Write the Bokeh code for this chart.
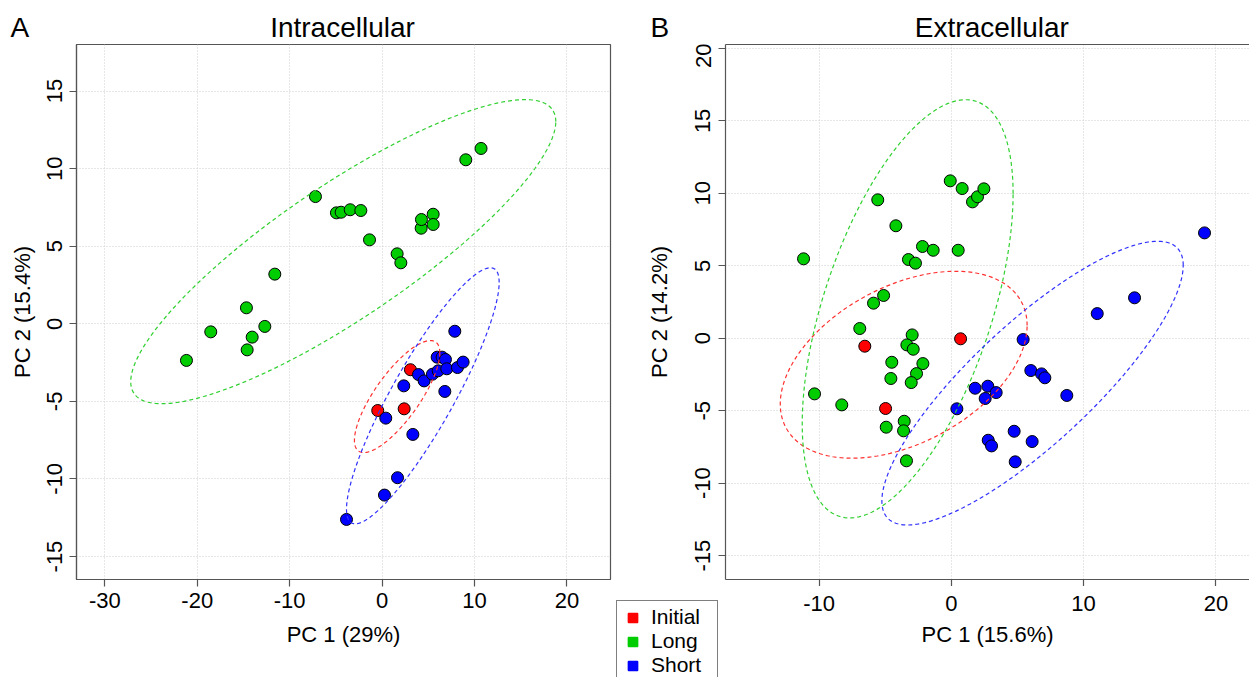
import numpy as np
from bokeh.plotting import figure
from bokeh.layouts import row, column
from bokeh.models import Range1d, FixedTicker, Legend, LegendItem, LinearAxis
from bokeh.core.properties import value
from bokeh.embed import file_html
from bokeh.resources import INLINE

FONT = "Liberation Sans"
groups = ["Initial", "Long", "Short"]
colors = {"Initial": "#FF0000", "Long": "#00CD00", "Short": "#0000FF"}
ell_colors = {"Initial": "#FF3030", "Long": "#30D030", "Short": "#3030FF"}
FRAME = "#555555"

# ---------------- Intracellular (panel A) ----------------
intra_titles = ("Intracellular", "PC 1 (29%)", "PC 2 (15.4%)")
intra_x_ticks = [-30, -20, -10, 0, 10, 20]
intra_y_ticks = [-15, -10, -5, 0, 5, 10, 15]

intra_initial_x = [-0.47, 2.39, 3.07]
intra_initial_y = [-5.59, -5.48, -2.96]
intra_long_x = [-21.17, -18.54, -14.68, -14.06, -14.60, -12.69, -11.61, -7.21, -4.94, -4.43, -3.45,
                -2.30, -1.36, 1.63, 2.03, 4.23, 4.26, 5.53, 5.53, 9.06, 10.71]
intra_long_y = [-2.36, -0.52, 1.03, -0.86, -1.68, -0.17, 3.20, 8.20, 7.15, 7.19, 7.35,
                7.30, 5.41, 4.51, 3.93, 6.16, 6.72, 7.06, 6.40, 10.57, 11.30]
intra_short_x = [7.87, 5.96, 6.50, 6.86, 3.94, 4.55, 5.45, 6.07, 7.00, 8.16, 8.77, 6.79,
                 2.35, 0.40, 3.33, 1.67, 0.26, -3.85]
intra_short_y = [-0.48, -2.15, -2.15, -2.30, -3.27, -3.68, -3.25, -3.03, -2.90, -2.82, -2.47, -4.36,
                 -4.00, -6.08, -7.13, -9.92, -11.04, -12.61]
# ellipse: centre x, centre y, half-width x, half-height y, correlation
intra_ellipses = {"Initial": (1.63, -4.69, 4.62, 3.61, 0.78),
                  "Long": (-4.20, 4.65, 23.0, 9.80, 0.855),
                  "Short": (4.41, -4.64, 8.26, 8.25, 0.885)}

# ---------------- Extracellular (panel B) ----------------
extra_titles = ("Extracellular", "PC 1 (15.6%)", "PC 2 (14.2%)")
extra_x_ticks = [-10, 0, 10, 20]
extra_y_ticks = [-15, -10, -5, 0, 5, 10, 15, 20]

extra_initial_x = [-6.54, -4.97, 0.70]
extra_initial_y = [-0.55, -4.85, -0.04]
extra_long_x = [-11.17, -5.56, -4.19, -2.18, -1.37, -3.24, -2.71, 0.52, -0.08, 0.82, 1.60, 1.98, 2.46,
                -5.88, -5.12, -6.92, -2.96, -3.36, -2.88, -2.15, -4.50, -2.63, -4.57, -3.03,
                -10.34, -8.28, -3.56, -3.61, -4.92, -3.39]
extra_long_y = [5.48, 9.55, 7.76, 6.33, 6.07, 5.43, 5.18, 6.07, 10.86, 10.33, 9.41, 9.76, 10.31,
                2.42, 2.95, 0.67, 0.23, -0.46, -0.76, -1.75, -1.66, -2.44, -2.78, -3.06,
                -3.84, -4.60, -5.73, -6.39, -6.14, -8.46]
extra_short_x = [0.42, 1.80, 2.76, 2.56, 3.39, 2.79, 3.04, 5.43, 6.01, 6.82, 7.07, 8.73,
                 4.75, 6.11, 4.83, 11.03, 13.85, 19.14]
extra_short_y = [-4.87, -3.45, -3.31, -4.16, -3.75, -7.04, -7.43, -0.09, -2.23, -2.46, -2.73, -3.95,
                 -6.42, -7.13, -8.53, 1.70, 2.79, 7.27]
extra_ellipses = {"Initial": (-3.60, -1.83, 9.33, 6.45, 0.42),
                  "Long": (-3.30, 2.03, 7.97, 14.43, 0.55),
                  "Short": (6.14, -3.10, 11.39, 9.79, 0.83)}


def ellipse_outline(cx, cy, rx, ry, rho, n=240):
    t = np.linspace(0, 2 * np.pi, n)
    phi = np.arccos(rho)
    return cx + rx * np.cos(t), cy + ry * np.cos(t - phi)


def base_fig(width, height, xr, yr, borders, **kw):
    bl, br, bt, bb = borders
    p = figure(width=width, height=height, x_range=xr, y_range=yr, output_backend="svg",
               toolbar_location=None, min_border_left=bl, min_border_right=br,
               min_border_top=bt, min_border_bottom=bb, frame_align=False, **kw)
    p.background_fill_color = "white"
    p.border_fill_color = "white"
    return p


def style_axis(ax, ticks, label=None, tick_standoff=0, label_standoff=0, parallel=False,
               show_labels=True, tick_len=7, line=True):
    ax.ticker = FixedTicker(ticks=ticks)
    ax.major_tick_out = tick_len
    ax.major_tick_in = 0
    ax.minor_tick_out = 0
    ax.minor_tick_in = 0
    ax.axis_line_color = FRAME if line else None
    ax.axis_line_width = 1.2
    ax.major_tick_line_color = FRAME if tick_len > 0 else None
    ax.major_tick_line_width = 1.2
    ax.major_label_standoff = tick_standoff
    ax.major_label_text_font = FONT
    ax.major_label_text_color = "black"
    if show_labels:
        ax.major_label_overrides = {t: str(t) for t in ticks}
        ax.major_label_text_font_size = "22px"
    else:
        ax.major_label_overrides = {t: "" for t in ticks}
        ax.major_label_text_font_size = "0px"
    if label:
        ax.axis_label = label
        ax.axis_label_text_font = FONT
        ax.axis_label_text_font_size = "22px"
        ax.axis_label_text_font_style = "normal"
        ax.axis_label_text_color = "black"
        ax.axis_label_standoff = label_standoff
    if parallel:
        ax.major_label_orientation = "parallel"


def style_grid(p):
    for g in (p.xgrid[0], p.ygrid[0]):
        g.grid_line_color = "#CFCFCF"
        g.grid_line_dash = "1 2"
        g.grid_line_width = 1


def draw_data(p, pts, ells):
    for g in groups:
        xs, ys = pts[g]
        p.scatter(xs, ys, size=12, fill_color=colors[g], line_color="black", line_width=1)
    for g in groups:
        ex, ey = ellipse_outline(*ells[g])
        p.line(ex, ey, line_color=ell_colors[g], line_dash="4 3", line_width=1.2)


# ---------- header with panel letters and titles ----------
HEAD_H = 43
header = base_fig(1249, HEAD_H, Range1d(0, 1249), Range1d(0, HEAD_H), (0, 0, 0, 0),
                  x_axis_type=None, y_axis_type=None)
header.outline_line_color = None
header.text(x=[10, 650], y=[15.7, 15.7], text=["A", "B"], text_align="left",
            text_baseline="middle", text_font=value(FONT), text_font_size="28px",
            text_color="black")
header.text(x=[342, 991.4], y=[15.7, 15.7], text=[intra_titles[0], extra_titles[0]],
            text_align="center", text_baseline="middle", text_font=value(FONT),
            text_font_size="28px", text_color="black")

# ---------- panel A ----------
p1 = base_fig(612, 677 - HEAD_H, Range1d(-33.07, 24.72), Range1d(-16.48, 18.00), (76, 2, 1, 98))
p1.outline_line_color = FRAME
p1.outline_line_width = 1.2
style_axis(p1.xaxis[0], intra_x_ticks, intra_titles[1], 6, 11)
style_axis(p1.yaxis[0], intra_y_ticks, intra_titles[2], 7, 10, parallel=True)
style_grid(p1)
draw_data(p1, {"Initial": (intra_initial_x, intra_initial_y),
               "Long": (intra_long_x, intra_long_y),
               "Short": (intra_short_x, intra_short_y)}, intra_ellipses)

# ---------- panel B (frame runs past the right edge) ----------
xr2 = Range1d(-17.07, 22.54)
p2 = base_fig(637, 586 - HEAD_H, xr2, Range1d(-16.65, 20.27), (113, 0, 1, 7))
p2.outline_line_color = None
style_axis(p2.xaxis[0], extra_x_ticks, show_labels=False)
style_axis(p2.yaxis[0], extra_y_ticks, extra_titles[2], 8, 21, parallel=True)
top_axis = LinearAxis()
style_axis(top_axis, [], show_labels=False, tick_len=0)
p2.add_layout(top_axis, "above")
style_grid(p2)
draw_data(p2, {"Initial": (extra_initial_x, extra_initial_y),
               "Long": (extra_long_x, extra_long_y),
               "Short": (extra_short_x, extra_short_y)}, extra_ellipses)

# x tick labels and axis title of panel B
p2b = base_fig(524, 91, xr2, Range1d(0, 1), (0, 0, 0, 90), y_axis_type=None)
p2b.outline_line_color = None
p2b.xgrid.visible = False
style_axis(p2b.xaxis[0], extra_x_ticks, extra_titles[1], 8, 8, tick_len=0, line=False)

# legend box between the panels
legfig = base_fig(113, 91, Range1d(0, 1), Range1d(0, 1), (3, 0, 13, 0),
                  x_axis_type=None, y_axis_type=None)
legfig.outline_line_color = None
items = []
for g in groups:
    r = legfig.scatter([np.nan], [np.nan], marker="square", fill_color=colors[g],
                       line_color=colors[g], line_width=1.5)
    items.append(LegendItem(label=g, renderers=[r]))
legend = Legend(items=items, location="top_left", margin=1, glyph_width=23, glyph_height=23,
                label_standoff=7, label_width=62, padding=4, spacing=0,
                label_text_font=FONT, label_text_font_size="21px", label_text_color="black",
                border_line_color="black", border_line_width=1.2, background_fill_color="white",
                background_fill_alpha=1)
legfig.add_layout(legend, "center")

layout = column(header, row(p1, column(p2, row(legfig, p2b))))
open("out.html", "w").write(file_html(layout, INLINE))
